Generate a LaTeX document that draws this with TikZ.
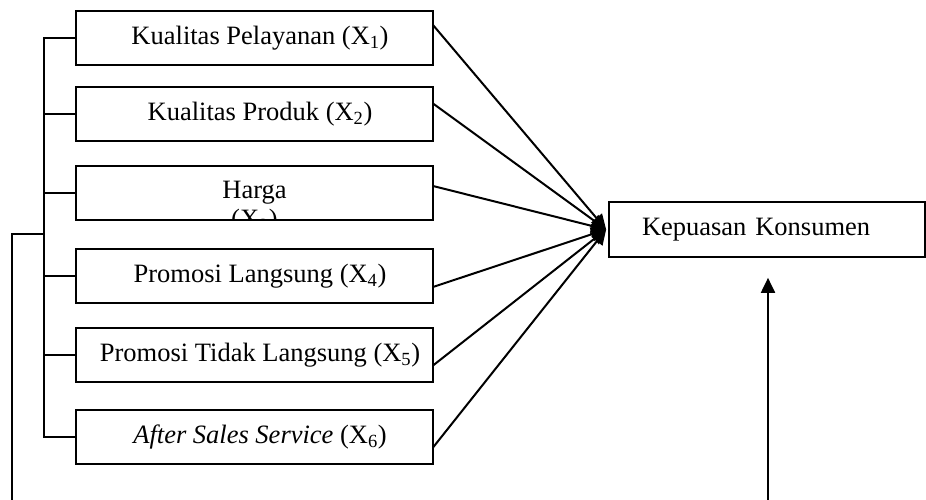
\documentclass[tikz,border=0pt]{standalone}
\usepackage{fontspec}
\setmainfont{Liberation Serif}
\usetikzlibrary{positioning,arrows.meta,calc}

\begin{document}
\begin{tikzpicture}[x=1pt,y=1pt,
    var/.style = {draw=black, line width=1.7pt, minimum width=357pt, minimum height=54pt,
            inner sep=0pt, outer sep=0pt, font=\fontsize{26.5}{30}\selectfont,
            execute at begin node={\hspace*{11pt}}},
    lbl/.style = {inner sep=0pt, font=\fontsize{26.5}{30}\selectfont},
    arr/.style = {line width=2pt,-{Triangle[length=15pt,width=14pt]}}]
    \useasboundingbox (0,0) rectangle (926,500);
    \node[var] (k1) at (254.5,462) {Kualitas Pelayanan (X\textsubscript{1})};
    \node[var,below=22pt of k1] (k2) {Kualitas Produk (X\textsubscript{2})};
    \node[var,below=25pt of k2] (k3) {};
    \node[var,below=29pt of k3] (k4) {Promosi Langsung (X\textsubscript{4})};
    \node[var,below=25pt of k4] (k5) {Promosi Tidak Langsung (X\textsubscript{5})};
    \node[var,below=28pt of k5] (k6) {\textit{After Sales Service} (X\textsubscript{6})};
    % Harga: second line cut off by the box
    \node[lbl] (h1) at (k3) {Harga};
    \begin{scope}
    \clip (k3.north west) rectangle (k3.south east);
    \node[lbl,anchor=base] (h2) at ([yshift=-29pt]h1.base) {(X\textsubscript{3})};
    \end{scope}
    \node[draw=black,line width=1.7pt,minimum width=316pt,minimum height=55pt,inner sep=0pt,
        text width=250pt,align=left,font=\fontsize{26.5}{30}\selectfont] (ky) at (767,270.5) {Kepuasan Konsumen};
    \foreach \n/\d in {1/13,2/10.5,3/7,4/-11,5/-10.5,6/-10.5}
        \draw[arr] ([yshift=\d pt]k\n.east) -- ([xshift=-2pt]ky.west);
    % bracket
    \draw[line width=1.7pt] (k1.west) -- ++(-32,0) |- (k6.west);
    \foreach \n in {2,...,5}
        \draw[line width=1.7pt] (k\n.west) -- ++(-32,0);
    \coordinate (j) at (44,266);
    \coordinate (c0) at (12,0);
    \coordinate (c1) at (768,0);
    \draw[line width=1.7pt] (j) -| (c0);
    \draw[arr] (c1) -- ([xshift=1pt,yshift=-20pt]ky.south);
\end{tikzpicture}
\end{document}
